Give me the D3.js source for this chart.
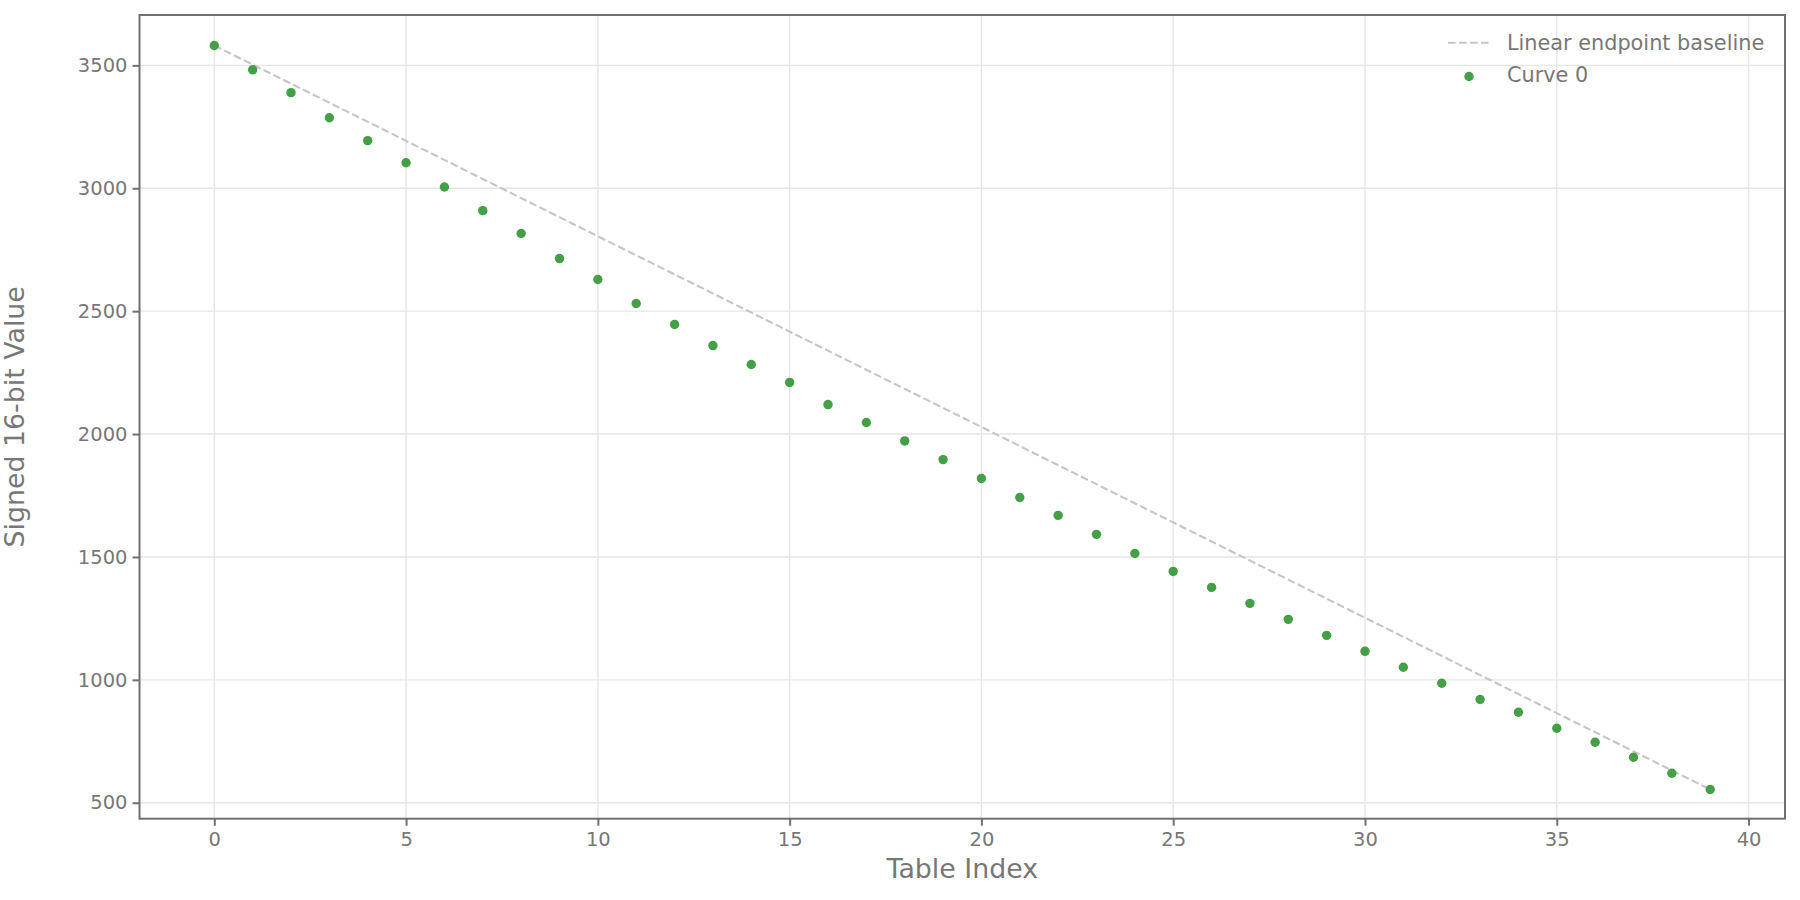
<!DOCTYPE html>
<html>
<head>
<meta charset="utf-8">
<script src="https://cdn.jsdelivr.net/npm/d3@7/dist/d3.min.js"></script>
<style>
  html, body { margin: 0; padding: 0; background: #ffffff; }
  svg { display: block; font-family: "DejaVu Sans", sans-serif; }
</style>
</head>
<body>
<svg id="chart" width="1800" height="900"></svg>
<script>
// ---- data ----
const tableIndex = d3.range(0, 40);
const curve0 = [3581, 3482, 3389, 3287, 3194, 3104, 3005, 2909, 2816, 2714,
                2629, 2531, 2446, 2360, 2283, 2210, 2120, 2047, 1972, 1896,
                1819, 1742, 1669, 1592, 1514, 1441, 1376, 1311, 1246, 1181,
                1116, 1051, 986, 920, 868, 803, 746, 685, 620, 554];
const xTicks = [0, 5, 10, 15, 20, 25, 30, 35, 40];
const yTicks = [500, 1000, 1500, 2000, 2500, 3000, 3500];
const seriesNames = ["Linear endpoint baseline", "Curve 0"];
const xTitle = "Table Index";
const yTitle = "Signed 16-bit Value";

// ---- layout ----
const W = 1800, H = 900;
const margin = { top: 15, right: 15, bottom: 81.3, left: 139.5 };
const iw = W - margin.left - margin.right;
const ih = H - margin.top - margin.bottom;
const textColor = "#777777";
const spineColor = "#707070";
const gridColor = "#e6e6e6";
const green = "#43a047";
const baselineColor = "#c6c6c6";

const svg = d3.select("#chart");
const g = svg.append("g").attr("transform", `translate(${margin.left},${margin.top})`);

const xPad = (d3.max(tableIndex) - d3.min(tableIndex)) * 0.05;
const x = d3.scaleLinear()
  .domain([d3.min(tableIndex) - xPad, d3.max(tableIndex) + xPad])
  .range([0, iw]);
const y = d3.scaleLinear().domain([435, 3705]).range([ih, 0]);

// grid
g.append("g").selectAll("line").data(xTicks).join("line")
  .attr("x1", d => x(d)).attr("x2", d => x(d))
  .attr("y1", 0).attr("y2", ih)
  .attr("stroke", gridColor).attr("stroke-width", 1.4);
g.append("g").selectAll("line").data(yTicks).join("line")
  .attr("y1", d => y(d)).attr("y2", d => y(d))
  .attr("x1", 0).attr("x2", iw)
  .attr("stroke", gridColor).attr("stroke-width", 1.4);

// baseline (linear between endpoints)
const n = curve0.length;
const baseline = [
  [tableIndex[0], curve0[0]],
  [tableIndex[n - 1], curve0[n - 1]]
];
g.append("path")
  .datum(baseline)
  .attr("d", d3.line().x(d => x(d[0])).y(d => y(d[1])))
  .attr("fill", "none")
  .attr("stroke", baselineColor)
  .attr("stroke-width", 2.1)
  .attr("stroke-dasharray", "7.7,3.3");

// points
g.append("g").selectAll("circle").data(curve0).join("circle")
  .attr("cx", (d, i) => x(tableIndex[i]))
  .attr("cy", d => y(d))
  .attr("r", 4.7)
  .attr("fill", green);

// axes
const xAxis = g.append("g").attr("transform", `translate(0,${ih})`)
  .call(d3.axisBottom(x).tickValues(xTicks).tickSize(7).tickPadding(6).tickFormat(d3.format("d")));
const yAxis = g.append("g")
  .call(d3.axisLeft(y).tickValues(yTicks).tickSize(7).tickPadding(5).tickFormat(d3.format("d")));
[xAxis, yAxis].forEach(ax => {
  ax.select(".domain").remove();
  ax.selectAll(".tick line").attr("stroke", spineColor).attr("stroke-width", 2);
  ax.selectAll(".tick text").attr("fill", textColor)
    .style("font-size", "19.5px").style("font-family", "DejaVu Sans");
});

// frame
g.append("rect")
  .attr("x", 0).attr("y", 0).attr("width", iw).attr("height", ih)
  .attr("fill", "none").attr("stroke", spineColor).attr("stroke-width", 2);

// axis titles
svg.append("text")
  .attr("x", margin.left + iw / 2).attr("y", 878.3)
  .attr("text-anchor", "middle")
  .attr("fill", textColor).style("font-size", "26.8px")
  .text(xTitle);
svg.append("text")
  .attr("transform", `translate(24,${margin.top + ih / 2}) rotate(-90)`)
  .attr("text-anchor", "middle")
  .attr("fill", textColor).style("font-size", "26.8px")
  .text(yTitle);

// legend
const lg = svg.append("g");
lg.append("line")
  .attr("x1", 1448).attr("x2", 1490).attr("y1", 42.7).attr("y2", 42.7)
  .attr("stroke", baselineColor).attr("stroke-width", 2.1)
  .attr("stroke-dasharray", "7.7,3.3");
lg.append("circle").attr("cx", 1469).attr("cy", 76.5).attr("r", 4.7).attr("fill", green);
lg.selectAll("text").data(seriesNames).join("text")
  .attr("x", 1507).attr("y", (d, i) => 50 + i * 31.7)
  .attr("fill", textColor).style("font-size", "20.8px")
  .text(d => d);
</script>
</body>
</html>
